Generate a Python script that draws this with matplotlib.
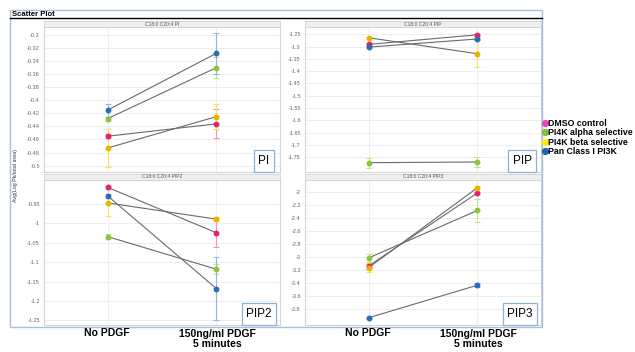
import matplotlib
matplotlib.use("Agg")
import matplotlib.pyplot as plt
from matplotlib.patches import Rectangle
from matplotlib.lines import Line2D
import numpy as np

plt.rcParams["font.family"] = ["Liberation Sans", "DejaVu Sans"]

W, H = 635, 352

conditions = ["No PDGF", "150ng/ml PDGF\n5 minutes"]
treatments = ["DMSO control", "PI4K alpha selective", "PI4K beta selective", "Pan Class I PI3K"]

# mean values per treatment: [No PDGF, 150ng/ml PDGF]
pi_mean = [[-0.455, -0.436], [-0.428, -0.350], [-0.473, -0.425], [-0.415, -0.328]]
pi_err = [[0.003, 0.022], [0.003, 0.016], [0.029, 0.019], [0.010, 0.031]]

pip_mean = [[-1.291, -1.252], [-1.772, -1.769], [-1.264, -1.329], [-1.302, -1.269]]
pip_err = [[0.004, 0.004], [0.020, 0.020], [0.005, 0.055], [0.003, 0.003]]

pip2_mean = [[-0.907, -1.024], [-1.034, -1.118], [-0.947, -0.989], [-0.929, -1.168]]
pip2_err = [[0.004, 0.038], [0.006, 0.013], [0.035, 0.005], [0.005, 0.081]]

pip3_mean = [[-3.134, -2.01], [-3.01, -2.28], [-3.16, -1.93], [-3.93, -3.43]]
pip3_err = [[0.03, 0.02], [0.056, 0.17], [0.065, 0.02], [0.015, 0.03]]

dot_colors = ["#e8206a", "#8cc43c", "#e8b400", "#2a6db5"]
err_colors = ["#f590b8", "#c8e48a", "#f8e45a", "#8fb6e2"]
legend_colors = ["#ee3fc0", "#7cc040", "#ffee00", "#1f66b0"]


def px(x0, y0, x1, y1):
    return [x0 / W, 1 - y1 / H, (x1 - x0) / W, (y1 - y0) / H]


fig = plt.figure(figsize=(W / 100, H / 100), dpi=100)

# outer frame
fig.patches.append(Rectangle((10 / W, 1 - 327 / H), 532 / W, 317 / H, transform=fig.transFigure,
                             fill=False, edgecolor="#a8bedc", lw=1.0))
fig.add_artist(Line2D([10 / W, 542 / W], [1 - 18 / H, 1 - 18 / H], color="black", lw=1.0))
fig.text(12 / W, 1 - 14.5 / H, "Scatter Plot", fontsize=5.5, fontweight="bold", va="center")

panels = [
    ("C18:0 C20:4 PI", "PI", pi_mean, pi_err, (44, 27, 280, 172), (-0.5098, -0.2877),
     np.arange(-0.5, -0.29, 0.02)),
    ("C18:0 C20:4 PIP", "PIP", pip_mean, pip_err, (305, 27, 541, 172), (-1.8098, -1.2203),
     np.arange(-1.75, -1.24, 0.05)),
    ("C18:0 C20:4 PIP2", "PIP2", pip2_mean, pip2_err, (44, 180, 280, 325), (-1.2619, -0.888),
     np.arange(-1.25, -0.94, 0.05)),
    ("C18:0 C20:4 PIP3", "PIP3", pip3_mean, pip3_err, (305, 180, 541, 325), (-4.042, -1.811),
     np.arange(-3.8, -1.99, 0.2)),
]

x = np.arange(len(conditions))

for title, tag, means, errs, (x0, y0, x1, y1), ylim, ticks in panels:
    ax = fig.add_axes(px(x0, y0, x1, y1))
    ax.set_xlim(-0.585, 1.585)
    ax.set_ylim(*ylim)
    ax.set_yticks(ticks)
    ax.set_yticklabels(["%g" % round(t, 3) for t in ticks])
    ax.set_xticks(x)
    ax.set_xticklabels([])
    ax.tick_params(axis="both", length=0, labelsize=4, labelcolor="#666666", pad=3)
    ax.grid(True, color="#ebebeb", lw=0.6)
    ax.set_axisbelow(True)
    for s in ax.spines.values():
        s.set_color("#d4d4d4")
        s.set_linewidth(0.8)

    for i in range(len(treatments)):
        ax.errorbar(x, means[i], yerr=errs[i], fmt="none", ecolor=err_colors[i],
                    elinewidth=0.8, capsize=2.5, capthick=0.8, zorder=2)
    for i in range(len(treatments)):
        ax.plot(x, means[i], color="#6a6a6a", lw=0.8, zorder=3)
    for i in range(len(treatments)):
        ax.plot(x, means[i], ls="none", marker="o", ms=3.2, color=dot_colors[i], zorder=4)

    # header strip
    hx = fig.add_axes(px(x0, y0 - 6, x1, y0))
    hx.set_xticks([])
    hx.set_yticks([])
    hx.set_facecolor("#efefef")
    for s in hx.spines.values():
        s.set_color("#d4d4d4")
        s.set_linewidth(0.6)
    hx.text(0.5, 0.5, title, fontsize=3.6, color="#555555", ha="center", va="center",
            transform=hx.transAxes)

    # tag box
    bw = 24 if len(tag) == 2 else (30 if len(tag) == 3 else 34)
    ax.text(1 - 4 / (x1 - x0) - bw / 2 / (x1 - x0), 11 / (y1 - y0), tag, transform=ax.transAxes,
            fontsize=8.5, ha="center", va="center", zorder=6,
            bbox=dict(boxstyle="square,pad=0.4", fc="white", ec="#8fb0d8", lw=0.9))

# category labels under the bottom panels
for cx in (107, 368):
    fig.text(cx / W, 1 - 333 / H, conditions[0], fontsize=7.5, fontweight="bold", ha="center", va="center")
for cx in (217, 478):
    fig.text(cx / W, 1 - 339 / H, conditions[1], fontsize=7.5, fontweight="bold", ha="center",
             va="center", linespacing=1.0)

fig.text(15 / W, 1 - 176 / H, "Avg(Log Pk/total area)", fontsize=3.8, rotation=90,
         ha="center", va="center", color="#333333")

handles = [Line2D([], [], ls="none", marker="o", ms=4.2, color=c) for c in legend_colors]
fig.legend(handles, treatments, loc="upper left", bbox_to_anchor=(543 / W, 1 - 119 / H),
           frameon=False, prop={"weight": "bold", "size": 6.3},
           handlelength=0.5, handletextpad=0.1, labelspacing=0.05, borderpad=0, borderaxespad=0)

fig.savefig("out.png", dpi=100)
